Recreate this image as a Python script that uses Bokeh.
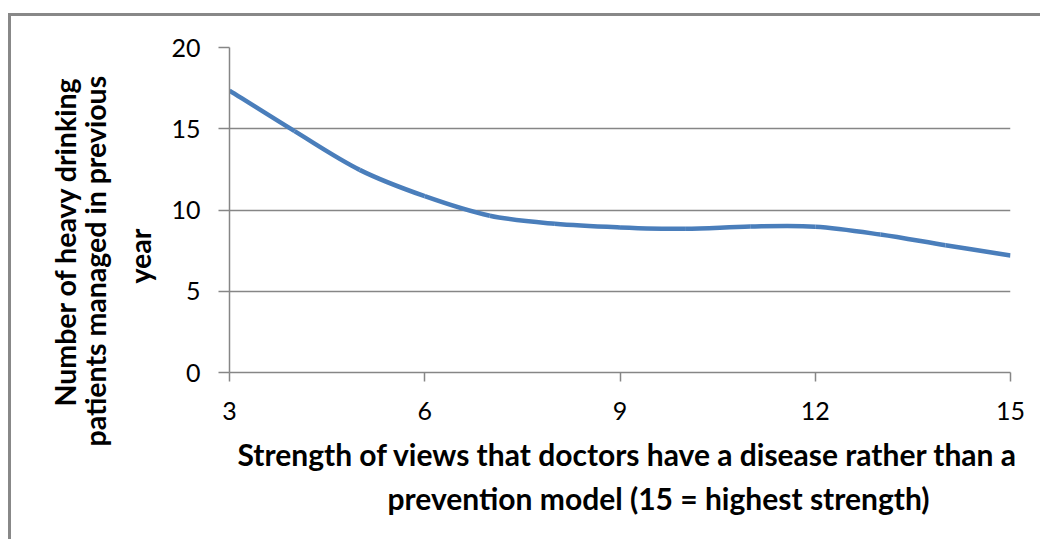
import numpy as np
from bokeh.plotting import figure
from bokeh.layouts import row, column
from bokeh.models import ColumnDataSource, FixedTicker, Range1d, Spacer, Title
from bokeh.embed import file_html
from bokeh.resources import INLINE

# Data
strength = [3, 4, 5, 6, 7, 8, 9, 10, 11, 12, 13, 14, 15]
patients = [17.35, 14.85, 12.47, 10.85, 9.65, 9.15, 8.93, 8.84, 8.98, 8.97, 8.49, 7.83, 7.2]

x_ticks = [3, 6, 9, 12, 15]
y_ticks = [0, 5, 10, 15, 20]

x_label_lines = ["Strength of views that doctors have a disease rather than a",
                 "prevention model (15 = highest strength)"]
y_label_lines = ["Number of heavy drinking",
                 "patients managed in previous",
                 "year"]

LINE_COLOR = "#4a7ebb"
GRAY = "#868686"
FONT = "Lato"

# Smoothed line (Excel-style Catmull-Rom) built from the data points
xs = np.array(strength, dtype=float)
ys = np.array(patients, dtype=float)
n = len(xs)
x0, y0, x1, y1, cx0, cy0, cx1, cy1 = [], [], [], [], [], [], [], []
for i in range(n - 1):
    xp, yp = (xs[i - 1], ys[i - 1]) if i > 0 else (xs[i], ys[i])
    xn, yn = (xs[i + 2], ys[i + 2]) if i + 2 < n else (xs[i + 1], ys[i + 1])
    x0.append(xs[i]); y0.append(ys[i])
    x1.append(xs[i + 1]); y1.append(ys[i + 1])
    cx0.append(xs[i] + (xs[i + 1] - xp) / 6.0)
    cy0.append(ys[i] + (ys[i + 1] - yp) / 6.0)
    cx1.append(xs[i + 1] - (xn - xs[i]) / 6.0)
    cy1.append(ys[i + 1] - (yn - ys[i]) / 6.0)

src = ColumnDataSource(dict(x0=x0, y0=y0, x1=x1, y1=y1, cx0=cx0, cy0=cy0, cx1=cx1, cy1=cy1))

p = figure(
    frame_width=778, frame_height=322,
    min_border_left=218, min_border_right=33,
    min_border_top=31, min_border_bottom=170,
    x_range=Range1d(3, 15), y_range=Range1d(0, 20),
    output_backend="svg", toolbar_location=None,
)
p.styles = {"border-top": "3px solid #888888", "border-left": "3px solid #888888"}
p.outline_line_color = None
p.background_fill_color = "white"
p.border_fill_color = "white"

p.bezier(x0="x0", y0="y0", x1="x1", y1="y1", cx0="cx0", cy0="cy0", cx1="cx1", cy1="cy1",
         source=src, line_color=LINE_COLOR, line_width=4.5)

p.xgrid.visible = False
p.ygrid.grid_line_color = GRAY
p.ygrid.grid_line_width = 1.5
p.ygrid.ticker = FixedTicker(ticks=y_ticks)

for ax in (p.xaxis[0], p.yaxis[0]):
    ax.axis_line_color = GRAY
    ax.axis_line_width = 1.5
    ax.major_tick_line_color = GRAY
    ax.major_tick_line_width = 1.5
    ax.major_tick_in = 0
    ax.minor_tick_line_color = None
    ax.major_label_text_font = FONT
    ax.major_label_text_font_size = "25px"
    ax.major_label_text_color = "black"

p.xaxis[0].ticker = FixedTicker(ticks=x_ticks)
p.yaxis[0].ticker = FixedTicker(ticks=y_ticks)
p.xaxis[0].major_tick_out = 9
p.yaxis[0].major_tick_out = 11
p.xaxis[0].major_label_standoff = 20
p.yaxis[0].major_label_standoff = 18

# x axis title lines (each line its own title so it can be placed like the original)
x_offsets = [8, 158]
x_standoffs = [23, -11]
for txt, off, so in zip(x_label_lines, x_offsets, x_standoffs):
    p.add_layout(Title(text=txt, align="left", offset=off, standoff=so,
                       text_font=FONT, text_font_style="bold", text_font_size="30px",
                       text_color="black"), "below")

# y axis title lines, innermost first
y_offsets = [89, -74, -34]
y_standoffs = [23, -5, -6]
for txt, off, so in zip(reversed(y_label_lines), y_offsets, y_standoffs):
    p.add_layout(Title(text=txt, align="left", offset=off, standoff=so,
                       text_font=FONT, text_font_style="bold", text_font_size="28.5px",
                       text_color="black"), "left")

layout = row(Spacer(width=8), column(Spacer(height=13), p))

open("out.html", "w").write(file_html(layout, INLINE))
